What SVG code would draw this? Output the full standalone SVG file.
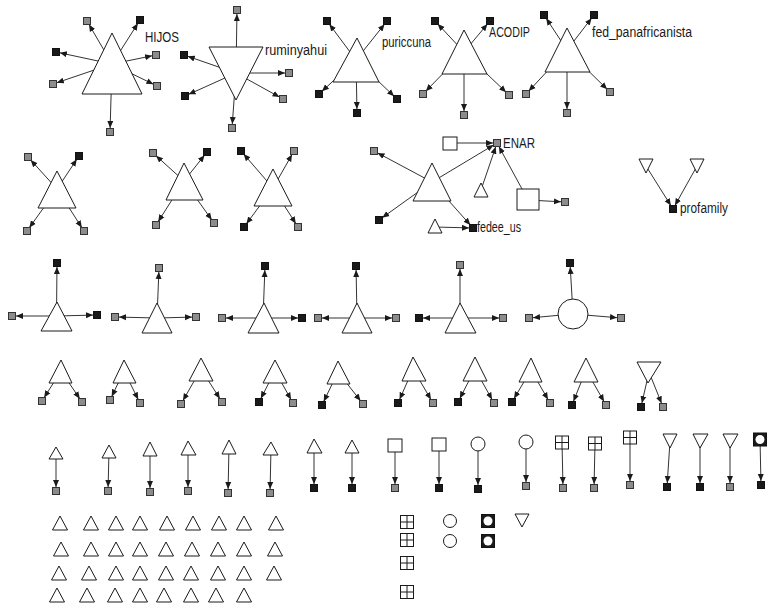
<svg xmlns="http://www.w3.org/2000/svg" width="768" height="606" viewBox="0 0 768 606">
<defs>
<style>
.e{stroke:#333;stroke-width:1;fill:none;marker-end:url(#a)}
.s{fill:#fff;stroke:#1a1a1a;stroke-width:1}
.G{fill:#8c8c8c;stroke:#333;stroke-width:1}
.B{fill:#1a1a1a;stroke:#111;stroke-width:1}
.k{fill:#1a1a1a;stroke:#111;stroke-width:1}
.w{fill:#fff;stroke:none}
.x{stroke:#1a1a1a;stroke-width:1;fill:none}
text{font-family:"Liberation Sans",Arial,sans-serif;font-size:14px;fill:#1a1a1a}
</style>
<marker id="a" viewBox="0 0 12 8" refX="11" refY="4" markerWidth="12" markerHeight="8" markerUnits="userSpaceOnUse" orient="auto"><path d="M0,1 L7,4 L0,7 z" fill="#1a1a1a"/></marker>
<rect id="g" class="G" x="-3.5" y="-3.5" width="7" height="7"/>
<rect id="b" class="B" x="-3.5" y="-3.5" width="7" height="7"/>
<path id="t" class="s" d="M0,-7 L7.5,7 L-7.5,7 z"/>
<g id="q"><rect class="s" x="-6.5" y="-6.5" width="13" height="13"/><path class="x" d="M0,-6.5 V6.5 M-6.5,0 H6.5"/></g>
<g id="o"><rect class="k" x="-6.5" y="-6.5" width="13" height="13"/><circle class="w" cx="0" cy="0" r="4.5"/></g>
</defs>

<g id="connectors">
<line class="e" x1="112" y1="64" x2="87" y2="21"/>
<line class="e" x1="112" y1="64" x2="140" y2="20"/>
<line class="e" x1="112" y1="64" x2="56" y2="52"/>
<line class="e" x1="112" y1="64" x2="156" y2="55"/>
<line class="e" x1="112" y1="64" x2="53" y2="84"/>
<line class="e" x1="112" y1="64" x2="157" y2="86"/>
<line class="e" x1="112" y1="64" x2="110" y2="132"/>
<line class="e" x1="236" y1="73" x2="237" y2="10"/>
<line class="e" x1="236" y1="73" x2="184" y2="55"/>
<line class="e" x1="236" y1="73" x2="289" y2="73"/>
<line class="e" x1="236" y1="73" x2="185" y2="96"/>
<line class="e" x1="236" y1="73" x2="283" y2="99"/>
<line class="e" x1="236" y1="73" x2="232" y2="128"/>
<line class="e" x1="356" y1="60" x2="327" y2="21"/>
<line class="e" x1="356" y1="60" x2="387" y2="21"/>
<line class="e" x1="356" y1="60" x2="319" y2="94"/>
<line class="e" x1="356" y1="60" x2="397" y2="99"/>
<line class="e" x1="356" y1="60" x2="357" y2="113"/>
<line class="e" x1="464" y1="52" x2="435" y2="21"/>
<line class="e" x1="464" y1="52" x2="490" y2="21"/>
<line class="e" x1="464" y1="52" x2="423" y2="94"/>
<line class="e" x1="464" y1="52" x2="509" y2="95"/>
<line class="e" x1="464" y1="52" x2="464" y2="115"/>
<line class="e" x1="567" y1="50" x2="544" y2="15"/>
<line class="e" x1="567" y1="50" x2="594" y2="15"/>
<line class="e" x1="567" y1="50" x2="526" y2="94"/>
<line class="e" x1="567" y1="50" x2="610" y2="92"/>
<line class="e" x1="567" y1="50" x2="567" y2="113"/>
<line class="e" x1="57" y1="189" x2="28" y2="157"/>
<line class="e" x1="57" y1="189" x2="79" y2="156"/>
<line class="e" x1="57" y1="189" x2="27" y2="231"/>
<line class="e" x1="57" y1="189" x2="84" y2="231"/>
<line class="e" x1="184" y1="181" x2="153" y2="153"/>
<line class="e" x1="184" y1="181" x2="207" y2="152"/>
<line class="e" x1="184" y1="181" x2="156" y2="225"/>
<line class="e" x1="184" y1="181" x2="214" y2="223"/>
<line class="e" x1="273" y1="188" x2="241" y2="151"/>
<line class="e" x1="273" y1="188" x2="294" y2="151"/>
<line class="e" x1="273" y1="188" x2="244" y2="227"/>
<line class="e" x1="273" y1="188" x2="298" y2="227"/>
<line class="e" x1="432" y1="182" x2="374" y2="151"/>
<line class="e" x1="432" y1="182" x2="379" y2="220"/>
<line class="e" x1="432" y1="182" x2="497" y2="143"/>
<line class="e" x1="432" y1="182" x2="473" y2="228"/>
<line class="e" x1="450" y1="143" x2="497" y2="143"/>
<line class="e" x1="481" y1="190" x2="497" y2="143"/>
<line class="e" x1="528" y1="200" x2="497" y2="143"/>
<line class="e" x1="528" y1="200" x2="565" y2="202"/>
<line class="e" x1="435" y1="227" x2="473" y2="228"/>
<line class="e" x1="646" y1="166" x2="673" y2="209"/>
<line class="e" x1="697" y1="166" x2="673" y2="209"/>
<line class="e" x1="56.5" y1="316" x2="57" y2="263"/>
<line class="e" x1="56.5" y1="316" x2="12" y2="316"/>
<line class="e" x1="56.5" y1="316" x2="97" y2="315"/>
<line class="e" x1="157" y1="318" x2="159" y2="268"/>
<line class="e" x1="157" y1="318" x2="115" y2="317"/>
<line class="e" x1="157" y1="318" x2="196" y2="317"/>
<line class="e" x1="263" y1="318" x2="265" y2="266"/>
<line class="e" x1="263" y1="318" x2="222" y2="318"/>
<line class="e" x1="263" y1="318" x2="302" y2="318"/>
<line class="e" x1="357" y1="318" x2="356" y2="266"/>
<line class="e" x1="357" y1="318" x2="318" y2="318"/>
<line class="e" x1="357" y1="318" x2="396" y2="318"/>
<line class="e" x1="460" y1="318" x2="460" y2="265"/>
<line class="e" x1="460" y1="318" x2="419" y2="318"/>
<line class="e" x1="460" y1="318" x2="503" y2="318"/>
<line class="e" x1="573" y1="314" x2="570" y2="263"/>
<line class="e" x1="573" y1="314" x2="529" y2="318"/>
<line class="e" x1="573" y1="314" x2="621" y2="318"/>
<line class="e" x1="61" y1="371" x2="42" y2="401"/>
<line class="e" x1="61" y1="371" x2="82" y2="402"/>
<line class="e" x1="124" y1="371" x2="110" y2="400"/>
<line class="e" x1="124" y1="371" x2="140" y2="403"/>
<line class="e" x1="201" y1="369" x2="181" y2="404"/>
<line class="e" x1="201" y1="369" x2="222" y2="402"/>
<line class="e" x1="275" y1="371" x2="259" y2="402"/>
<line class="e" x1="275" y1="371" x2="293" y2="403"/>
<line class="e" x1="338" y1="372" x2="322" y2="405"/>
<line class="e" x1="338" y1="372" x2="363" y2="404"/>
<line class="e" x1="413" y1="369" x2="398" y2="403"/>
<line class="e" x1="413" y1="369" x2="433" y2="403"/>
<line class="e" x1="475" y1="369" x2="458" y2="402"/>
<line class="e" x1="475" y1="369" x2="494" y2="403"/>
<line class="e" x1="531" y1="370" x2="512" y2="402"/>
<line class="e" x1="531" y1="370" x2="550" y2="403"/>
<line class="e" x1="586" y1="370" x2="572" y2="405"/>
<line class="e" x1="586" y1="370" x2="606" y2="405"/>
<line class="e" x1="649" y1="372" x2="641" y2="407"/>
<line class="e" x1="649" y1="372" x2="663" y2="407"/>
<line class="e" x1="56" y1="453" x2="56" y2="491"/>
<line class="e" x1="109" y1="451" x2="108" y2="491"/>
<line class="e" x1="150" y1="449" x2="150" y2="492"/>
<line class="e" x1="188" y1="448" x2="188" y2="491"/>
<line class="e" x1="229" y1="447" x2="228" y2="493"/>
<line class="e" x1="271" y1="448" x2="270" y2="493"/>
<line class="e" x1="314" y1="446" x2="314" y2="488"/>
<line class="e" x1="352" y1="446" x2="352" y2="488"/>
<line class="e" x1="395" y1="445" x2="395" y2="488"/>
<line class="e" x1="439" y1="444" x2="439" y2="488"/>
<line class="e" x1="478" y1="444" x2="478" y2="489"/>
<line class="e" x1="526" y1="442" x2="526" y2="486"/>
<line class="e" x1="562" y1="442" x2="563" y2="488"/>
<line class="e" x1="595" y1="443" x2="594" y2="488"/>
<line class="e" x1="630" y1="437" x2="630" y2="485"/>
<line class="e" x1="670" y1="441" x2="667" y2="487"/>
<line class="e" x1="700" y1="441" x2="700" y2="487"/>
<line class="e" x1="730" y1="441" x2="730" y2="487"/>
<line class="e" x1="760" y1="439" x2="761" y2="485"/>
</g>

<!-- Component 1: HIJOS -->
<g id="HIJOS"><polygon class="s" points="112,33 82,94 142,94"/><text x="145" y="42" textLength="34" lengthAdjust="spacingAndGlyphs">HIJOS</text></g>
<g id="h1"><use href="#g" x="87" y="21"/></g>
<g id="h2"><use href="#b" x="140" y="20"/></g>
<g id="h3"><use href="#b" x="56" y="52"/></g>
<g id="h4"><use href="#g" x="156" y="55"/></g>
<g id="h5"><use href="#g" x="53" y="84"/></g>
<g id="h6"><use href="#g" x="157" y="86"/></g>
<g id="h7"><use href="#g" x="110" y="132"/></g>

<!-- Component 2: ruminyahui -->
<g id="ruminyahui"><polygon class="s" points="209,47 263,47 236,100"/><text x="265" y="55" textLength="62" lengthAdjust="spacingAndGlyphs">ruminyahui</text></g>
<g id="r1"><use href="#g" x="237" y="10"/></g>
<g id="r2"><use href="#b" x="184" y="55"/></g>
<g id="r3"><use href="#g" x="289" y="73"/></g>
<g id="r4"><use href="#b" x="185" y="96"/></g>
<g id="r5"><use href="#g" x="283" y="99"/></g>
<g id="r6"><use href="#g" x="232" y="128"/></g>

<!-- Component 3: puriccuna -->
<g id="puriccuna"><polygon class="s" points="357,38 333,82 379,82"/><text x="382" y="47" textLength="49" lengthAdjust="spacingAndGlyphs">puriccuna</text></g>
<g id="p1"><use href="#b" x="327" y="21"/></g>
<g id="p2"><use href="#b" x="387" y="21"/></g>
<g id="p3"><use href="#b" x="319" y="94"/></g>
<g id="p4"><use href="#b" x="397" y="99"/></g>
<g id="p5"><use href="#b" x="357" y="113"/></g>

<!-- Component 4: ACODIP -->
<g id="ACODIP"><polygon class="s" points="464,30 442,74 487,74"/><text x="489" y="37" textLength="41" lengthAdjust="spacingAndGlyphs">ACODIP</text></g>
<g id="a1"><use href="#b" x="435" y="21"/></g>
<g id="a2"><use href="#b" x="490" y="21"/></g>
<g id="a3"><use href="#g" x="423" y="94"/></g>
<g id="a4"><use href="#g" x="509" y="95"/></g>
<g id="a5"><use href="#g" x="464" y="115"/></g>

<!-- Component 5: fed_panafricanista -->
<g id="fed_panafricanista"><polygon class="s" points="567,28 545,72 590,72"/><text x="592" y="37" textLength="100" lengthAdjust="spacingAndGlyphs">fed_panafricanista</text></g>
<g id="f1"><use href="#b" x="544" y="15"/></g>
<g id="f2"><use href="#b" x="594" y="15"/></g>
<g id="f3"><use href="#g" x="526" y="94"/></g>
<g id="f4"><use href="#g" x="610" y="92"/></g>
<g id="f5"><use href="#g" x="567" y="113"/></g>

<!-- Row 2 -->
<g id="c6"><polygon class="s" points="57,171 38,208 76,208"/></g>
<g id="c6a"><use href="#g" x="28" y="157"/></g>
<g id="c6b"><use href="#b" x="79" y="156"/></g>
<g id="c6c"><use href="#g" x="27" y="231"/></g>
<g id="c6d"><use href="#g" x="84" y="231"/></g>
<g id="c7"><polygon class="s" points="184,163 166,200 203,200"/></g>
<g id="c7a"><use href="#g" x="153" y="153"/></g>
<g id="c7b"><use href="#b" x="207" y="152"/></g>
<g id="c7c"><use href="#g" x="156" y="225"/></g>
<g id="c7d"><use href="#g" x="214" y="223"/></g>
<g id="c8"><polygon class="s" points="273,169 254,206 292,206"/></g>
<g id="c8a"><use href="#b" x="241" y="151"/></g>
<g id="c8b"><use href="#g" x="294" y="151"/></g>
<g id="c8c"><use href="#b" x="244" y="227"/></g>
<g id="c8d"><use href="#g" x="298" y="227"/></g>

<!-- ENAR cluster -->
<g id="c9"><polygon class="s" points="432,163 413,201 451,201"/></g>
<g id="c9a"><use href="#g" x="374" y="151"/></g>
<g id="c9b"><use href="#b" x="379" y="220"/></g>
<g id="ENAR"><use href="#g" x="497" y="143"/><text x="503" y="148" textLength="32" lengthAdjust="spacingAndGlyphs">ENAR</text></g>
<g id="fedee_us"><use href="#b" x="473" y="228"/><text x="477" y="232" textLength="44" lengthAdjust="spacingAndGlyphs">fedee_us</text></g>
<g id="c9sq"><rect class="s" x="443" y="137" width="14" height="13"/></g>
<g id="c9t1"><polygon class="s" points="481,183 474,197 488,197"/></g>
<g id="c9bigsq"><rect class="s" x="517" y="189" width="22" height="21"/></g>
<g id="c9c"><use href="#g" x="565" y="202"/></g>
<g id="c9t2"><polygon class="s" points="435,219 428,233 442,233"/></g>

<!-- profamily -->
<g id="pf1"><polygon class="s" points="639,159 653,159 646,173"/></g>
<g id="pf2"><polygon class="s" points="690,159 704,159 697,173"/></g>
<g id="profamily"><use href="#b" x="673" y="209"/><text x="680" y="213" textLength="48" lengthAdjust="spacingAndGlyphs">profamily</text></g>

<!-- Row 3 -->
<g id="r3A"><polygon class="s" points="57,302 41,331 72,331"/></g>
<g id="r3A1"><use href="#b" x="57" y="263"/></g>
<g id="r3A2"><use href="#g" x="12" y="316"/></g>
<g id="r3A3"><use href="#b" x="97" y="315"/></g>
<g id="r3B"><polygon class="s" points="157,303 142,333 172,333"/></g>
<g id="r3B1"><use href="#g" x="159" y="268"/></g>
<g id="r3B2"><use href="#g" x="115" y="317"/></g>
<g id="r3B3"><use href="#g" x="196" y="317"/></g>
<g id="r3C"><polygon class="s" points="264,303 248,333 279,333"/></g>
<g id="r3C1"><use href="#b" x="265" y="266"/></g>
<g id="r3C2"><use href="#g" x="222" y="318"/></g>
<g id="r3C3"><use href="#b" x="302" y="318"/></g>
<g id="r3D"><polygon class="s" points="357,303 342,333 372,333"/></g>
<g id="r3D1"><use href="#b" x="356" y="266"/></g>
<g id="r3D2"><use href="#g" x="318" y="318"/></g>
<g id="r3D3"><use href="#g" x="396" y="318"/></g>
<g id="r3E"><polygon class="s" points="460,303 445,333 476,333"/></g>
<g id="r3E1"><use href="#g" x="460" y="265"/></g>
<g id="r3E2"><use href="#b" x="419" y="318"/></g>
<g id="r3E3"><use href="#g" x="503" y="318"/></g>
<g id="r3F"><circle class="s" cx="573" cy="314" r="15"/></g>
<g id="r3F1"><use href="#b" x="570" y="263"/></g>
<g id="r3F2"><use href="#g" x="529" y="318"/></g>
<g id="r3F3"><use href="#g" x="621" y="318"/></g>

<!-- Row 4 -->
<g id="r4a"><polygon class="s" points="61,360 49,383 72,383"/></g>
<g id="r4a1"><use href="#g" x="42" y="401"/></g>
<g id="r4a2"><use href="#g" x="82" y="402"/></g>
<g id="r4b"><polygon class="s" points="124,360 113,383 136,383"/></g>
<g id="r4b1"><use href="#g" x="110" y="400"/></g>
<g id="r4b2"><use href="#g" x="140" y="403"/></g>
<g id="r4c"><polygon class="s" points="201,358 189,381 213,381"/></g>
<g id="r4c1"><use href="#g" x="181" y="404"/></g>
<g id="r4c2"><use href="#g" x="222" y="402"/></g>
<g id="r4d"><polygon class="s" points="275,360 263,383 287,383"/></g>
<g id="r4d1"><use href="#b" x="259" y="402"/></g>
<g id="r4d2"><use href="#g" x="293" y="403"/></g>
<g id="r4e"><polygon class="s" points="338,361 327,384 350,384"/></g>
<g id="r4e1"><use href="#b" x="322" y="405"/></g>
<g id="r4e2"><use href="#g" x="363" y="404"/></g>
<g id="r4f"><polygon class="s" points="413,357 402,381 426,381"/></g>
<g id="r4f1"><use href="#b" x="398" y="403"/></g>
<g id="r4f2"><use href="#g" x="433" y="403"/></g>
<g id="r4g"><polygon class="s" points="475,357 463,381 487,381"/></g>
<g id="r4g1"><use href="#b" x="458" y="402"/></g>
<g id="r4g2"><use href="#g" x="494" y="403"/></g>
<g id="r4h"><polygon class="s" points="531,358 519,382 542,382"/></g>
<g id="r4h1"><use href="#b" x="512" y="402"/></g>
<g id="r4h2"><use href="#g" x="550" y="403"/></g>
<g id="r4i"><polygon class="s" points="586,358 574,382 598,382"/></g>
<g id="r4i1"><use href="#b" x="572" y="405"/></g>
<g id="r4i2"><use href="#g" x="606" y="405"/></g>
<g id="r4j"><polygon class="s" points="637,362 661,362 648,383"/></g>
<g id="r4j1"><use href="#b" x="641" y="407"/></g>
<g id="r4j2"><use href="#g" x="663" y="407"/></g>

<!-- Row 5 -->
<g id="r5a"><polygon class="s" points="56,447 49,459 63,459"/></g>
<g id="r5a1"><use href="#g" x="56" y="491"/></g>
<g id="r5b"><polygon class="s" points="109,445 102,458 116,458"/></g>
<g id="r5b1"><use href="#g" x="108" y="491"/></g>
<g id="r5c"><polygon class="s" points="150,442 143,456 157,456"/></g>
<g id="r5c1"><use href="#g" x="150" y="492"/></g>
<g id="r5d"><polygon class="s" points="188,441 181,455 196,455"/></g>
<g id="r5d1"><use href="#g" x="188" y="491"/></g>
<g id="r5e"><polygon class="s" points="229,440 222,454 236,454"/></g>
<g id="r5e1"><use href="#g" x="228" y="493"/></g>
<g id="r5f"><polygon class="s" points="271,442 263,455 278,455"/></g>
<g id="r5f1"><use href="#g" x="270" y="493"/></g>
<g id="r5g"><polygon class="s" points="314,439 307,453 322,453"/></g>
<g id="r5g1"><use href="#b" x="314" y="488"/></g>
<g id="r5h"><polygon class="s" points="352,440 345,453 359,453"/></g>
<g id="r5h1"><use href="#b" x="352" y="488"/></g>
<g id="r5i"><rect class="s" x="388" y="439" width="14" height="13"/></g>
<g id="r5i1"><use href="#g" x="395" y="488"/></g>
<g id="r5j"><rect class="s" x="432" y="438" width="14" height="13"/></g>
<g id="r5j1"><use href="#b" x="439" y="488"/></g>
<g id="r5k"><circle class="s" cx="478" cy="444" r="7"/></g>
<g id="r5k1"><use href="#b" x="478" y="489"/></g>
<g id="r5l"><circle class="s" cx="526" cy="442" r="7"/></g>
<g id="r5l1"><use href="#g" x="526" y="486"/></g>
<g id="r5m"><use href="#q" x="562" y="442.5"/></g>
<g id="r5m1"><use href="#g" x="563" y="488"/></g>
<g id="r5n"><use href="#q" x="595" y="443.5"/></g>
<g id="r5n1"><use href="#g" x="594" y="488"/></g>
<g id="r5o"><use href="#q" x="630" y="437.5"/></g>
<g id="r5o1"><use href="#g" x="630" y="485"/></g>
<g id="r5p"><polygon class="s" points="663,434 677,434 670,448"/></g>
<g id="r5p1"><use href="#b" x="667" y="487"/></g>
<g id="r5q"><polygon class="s" points="693,434 708,434 700,448"/></g>
<g id="r5q1"><use href="#b" x="700" y="487"/></g>
<g id="r5r"><polygon class="s" points="723,434 738,434 730,448"/></g>
<g id="r5r1"><use href="#g" x="730" y="487"/></g>
<g id="r5s"><use href="#o" x="760" y="439.5"/></g>
<g id="r5s1"><use href="#b" x="761" y="485"/></g>

<!-- Isolates -->
<g id="i1"><use href="#t" x="60" y="523"/></g>
<g id="i2"><use href="#t" x="91" y="523"/></g>
<g id="i3"><use href="#t" x="116" y="523"/></g>
<g id="i4"><use href="#t" x="140" y="523"/></g>
<g id="i5"><use href="#t" x="167" y="523"/></g>
<g id="i6"><use href="#t" x="193" y="523"/></g>
<g id="i7"><use href="#t" x="219" y="523"/></g>
<g id="i8"><use href="#t" x="244" y="523"/></g>
<g id="i9"><use href="#t" x="276" y="523"/></g>
<g id="i10"><use href="#t" x="61" y="549"/></g>
<g id="i11"><use href="#t" x="91" y="549"/></g>
<g id="i12"><use href="#t" x="116" y="549"/></g>
<g id="i13"><use href="#t" x="140" y="549"/></g>
<g id="i14"><use href="#t" x="166" y="549"/></g>
<g id="i15"><use href="#t" x="192" y="549"/></g>
<g id="i16"><use href="#t" x="218" y="549"/></g>
<g id="i17"><use href="#t" x="244" y="549"/></g>
<g id="i18"><use href="#t" x="275" y="549"/></g>
<g id="i19"><use href="#t" x="59" y="573"/></g>
<g id="i20"><use href="#t" x="89" y="573"/></g>
<g id="i21"><use href="#t" x="116" y="573"/></g>
<g id="i22"><use href="#t" x="140" y="573"/></g>
<g id="i23"><use href="#t" x="166" y="573"/></g>
<g id="i24"><use href="#t" x="191" y="573"/></g>
<g id="i25"><use href="#t" x="218" y="573"/></g>
<g id="i26"><use href="#t" x="244" y="573"/></g>
<g id="i27"><use href="#t" x="274" y="573"/></g>
<g id="i28"><use href="#t" x="57" y="595"/></g>
<g id="i29"><use href="#t" x="87" y="595"/></g>
<g id="i30"><use href="#t" x="115" y="595"/></g>
<g id="i31"><use href="#t" x="140" y="595"/></g>
<g id="i32"><use href="#t" x="164" y="595"/></g>
<g id="i33"><use href="#t" x="191" y="595"/></g>
<g id="i34"><use href="#t" x="216" y="595"/></g>
<g id="i35"><use href="#t" x="244" y="595"/></g>
<g id="i36"><use href="#q" x="407" y="522"/></g>
<g id="i37"><use href="#q" x="407" y="540"/></g>
<g id="i38"><use href="#q" x="407" y="563"/></g>
<g id="i39"><use href="#q" x="407" y="592"/></g>
<g id="i40"><circle class="s" cx="450" cy="521" r="6.5"/></g>
<g id="i41"><circle class="s" cx="450" cy="541" r="6.5"/></g>
<g id="i42"><use href="#o" x="488" y="521"/></g>
<g id="i43"><use href="#o" x="488" y="541"/></g>
<g id="i44"><polygon class="s" points="515,514 529,514 522,527"/></g>
</svg>
